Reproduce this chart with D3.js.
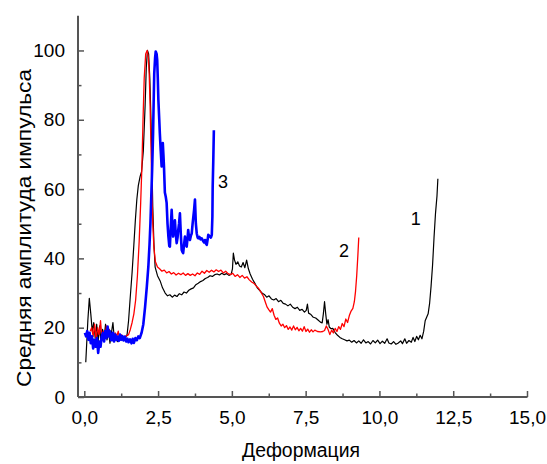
<!DOCTYPE html>
<html>
<head>
<meta charset="utf-8">
<script src="https://cdn.jsdelivr.net/npm/d3@7"></script>
<style>
html,body{margin:0;padding:0;background:#fff;}
svg{display:block;font-family:"Liberation Sans",Arial,sans-serif;}
</style>
</head>
<body>
<svg id="chart" width="547" height="464"></svg>
<script>
// Curve 1 (black): [deformation, mean pulse amplitude]
const curve1 = [
[0.05,10],[0.12,22],[0.17,28.5],[0.22,24],[0.27,19],[0.32,21.5],[0.37,17],[0.42,21],[0.47,16],[0.52,20.5],[0.57,15.5],[0.62,19.5],[0.67,17],[0.72,21],[0.77,16.5],[0.82,19],[0.87,15.5],[0.92,18.5],[0.97,21.5],[1.02,16.5],[1.07,18],[1.12,16],[1.17,17.5],[1.22,16.5],[1.27,17.5],[1.32,16.5],[1.38,17],[1.45,18],[1.5,22],[1.55,28],[1.62,36],[1.68,44],[1.73,51],[1.78,57],[1.83,61],[1.89,63.6],[1.94,65],[2.0,71],[2.06,84],[2.1,95],[2.14,100],[2.18,99],[2.22,92],[2.26,80],[2.29,68],[2.32,55],[2.36,44],[2.4,37.5],[2.48,35],[2.57,33.5],[2.65,31.5],[2.74,30],[2.82,29.2],[2.9,29.5],[2.98,28.8],[3.06,29.4],[3.14,29],[3.22,29.8],[3.3,29.5],[3.38,30.3],[3.46,30],[3.54,30.8],[3.62,31.2],[3.7,31.5],[3.78,32.4],[3.86,32.8],[3.94,33.3],[4.02,33.6],[4.1,34.2],[4.18,34.5],[4.26,35],[4.34,34.8],[4.42,35.3],[4.5,35.5],[4.58,35.2],[4.66,35.7],[4.74,35.3],[4.82,35.6],[4.9,35.1],[4.98,35.5],[5.02,37],[5.05,41.5],[5.09,39.5],[5.14,38.3],[5.2,39],[5.26,37.8],[5.32,37.5],[5.38,38.8],[5.44,37.3],[5.5,39.5],[5.56,37],[5.62,35.5],[5.7,34],[5.78,32.8],[5.86,31.5],[5.94,30.8],[6.02,30],[6.1,29.6],[6.18,28.8],[6.26,29.2],[6.34,28.3],[6.42,28],[6.5,28.4],[6.58,27.5],[6.66,27.9],[6.74,27],[6.82,26.8],[6.9,26.3],[6.98,26.8],[7.06,25.9],[7.14,25.5],[7.22,25.9],[7.3,25],[7.38,25.3],[7.46,24.5],[7.52,25],[7.56,26.8],[7.6,24.2],[7.68,23.8],[7.76,23],[7.84,22.8],[7.92,22.2],[8.0,21.6],[8.06,21.4],[8.1,24],[8.14,27.5],[8.18,24],[8.22,21],[8.26,22.3],[8.3,20.2],[8.36,19.7],[8.42,19.8],[8.5,18.6],[8.58,17.8],[8.66,17.2],[8.74,16.8],[8.82,16.5],[8.9,16.2],[8.98,16.4],[9.06,15.8],[9.14,16.3],[9.22,15.6],[9.3,16.2],[9.38,15.5],[9.46,16.5],[9.54,15.6],[9.62,16],[9.7,15.3],[9.78,16.3],[9.86,15.6],[9.94,16.4],[10.02,15.4],[10.1,16.1],[10.18,15.5],[10.26,16.8],[10.32,15.6],[10.4,15.3],[10.48,16],[10.56,15.2],[10.64,15.6],[10.72,16.2],[10.78,15.4],[10.86,16.8],[10.92,15.5],[11.0,16.3],[11.08,15.8],[11.14,17.2],[11.2,16],[11.26,17.5],[11.32,16.5],[11.38,17.8],[11.44,16.8],[11.5,19],[11.55,22],[11.6,23],[11.65,24],[11.7,27],[11.75,32],[11.8,38],[11.85,46],[11.9,53],[11.95,58],[11.98,63]
];
// Curve 2 (red)
const curve2 = [
[0.2,19],[0.25,20],[0.3,17.5],[0.35,21],[0.4,16.5],[0.45,20],[0.5,18],[0.55,22],[0.6,16.5],[0.65,19],[0.7,17],[0.75,20.5],[0.8,17.5],[0.85,19.5],[0.9,16.5],[0.95,18.5],[1.0,16],[1.05,18.5],[1.1,17.5],[1.15,19],[1.2,16.5],[1.25,18],[1.3,16.5],[1.35,17.5],[1.4,17.5],[1.46,17.8],[1.5,18],[1.56,19.5],[1.62,21.5],[1.68,24],[1.74,28],[1.8,35],[1.86,45],[1.91,56],[1.95,66],[1.99,80],[2.03,92],[2.08,99],[2.13,100],[2.17,98],[2.2,93],[2.23,84],[2.26,72],[2.29,60],[2.32,50],[2.36,43],[2.41,39],[2.48,37.5],[2.55,37],[2.63,36.3],[2.71,36.6],[2.79,35.8],[2.87,36.2],[2.95,35.5],[3.03,35.9],[3.11,35.2],[3.19,35.7],[3.27,35.3],[3.35,35.8],[3.43,35.1],[3.51,35.6],[3.59,35.1],[3.67,35.5],[3.75,35],[3.83,35.8],[3.91,35.4],[3.99,36.3],[4.07,35.7],[4.15,36.5],[4.23,36],[4.31,36.6],[4.39,36.1],[4.47,36.7],[4.55,36.2],[4.63,36.6],[4.71,35.8],[4.79,36.3],[4.87,35.6],[4.95,35.3],[5.03,35.7],[5.11,34.8],[5.19,35.3],[5.27,34.5],[5.35,35.1],[5.43,34.3],[5.51,34.7],[5.59,33.8],[5.67,33.2],[5.75,32.8],[5.83,32],[5.91,31.3],[5.99,30.2],[6.07,29],[6.13,27.5],[6.19,26],[6.25,25.2],[6.31,24.5],[6.37,25.5],[6.43,23.6],[6.49,22.4],[6.55,22.8],[6.61,21.3],[6.67,20.5],[6.73,21],[6.79,20],[6.85,20.6],[6.91,19.5],[6.97,20.2],[7.03,19.3],[7.09,20.5],[7.15,19.4],[7.21,20.1],[7.27,19.1],[7.33,19.8],[7.39,19],[7.45,20.3],[7.51,18.9],[7.57,19.6],[7.63,18.7],[7.69,19.4],[7.75,18.8],[7.81,19.3],[7.9,18.9],[8.0,18.8],[8.08,18.9],[8.14,19.2],[8.2,20.5],[8.26,19.5],[8.32,18],[8.38,19.3],[8.44,18.5],[8.5,19.8],[8.56,18.9],[8.62,20.3],[8.68,19.5],[8.74,21.2],[8.8,20.3],[8.86,22.5],[8.92,21.5],[8.98,23.5],[9.04,24.8],[9.1,25.6],[9.15,27.5],[9.19,30.5],[9.23,35],[9.27,41],[9.3,46]
];
// Curve 3 (blue)
const curve3 = [
[0.02,18.5],[0.06,17.5],[0.1,19],[0.14,16.5],[0.18,18.5],[0.22,15.5],[0.26,17.5],[0.3,14],[0.34,16.5],[0.38,14.5],[0.43,17],[0.47,12.7],[0.51,16],[0.55,14.5],[0.59,17.5],[0.63,18.5],[0.67,16],[0.71,19],[0.75,17],[0.79,20.3],[0.83,17.5],[0.87,19],[0.9,16.5],[0.93,16.4],[0.97,18.5],[1.01,16],[1.05,18],[1.09,16.5],[1.13,17.4],[1.17,16.2],[1.21,18],[1.25,16.5],[1.29,17.6],[1.33,16.3],[1.38,17.4],[1.42,16],[1.46,16.8],[1.5,15.8],[1.55,16.6],[1.6,15.5],[1.64,16.8],[1.68,15.6],[1.73,17],[1.78,16.4],[1.83,17.5],[1.88,17],[1.94,18.5],[2.0,21],[2.06,26],[2.12,32],[2.17,37.6],[2.21,44],[2.24,50],[2.27,58],[2.3,66],[2.33,76],[2.35,85],[2.37,93.4],[2.4,98],[2.42,99.7],[2.45,99],[2.47,97.3],[2.49,92],[2.51,85.7],[2.54,80],[2.56,76],[2.59,71],[2.62,66.5],[2.64,70],[2.66,73.3],[2.68,70],[2.7,66.5],[2.73,59],[2.76,57.8],[2.79,56],[2.82,50],[2.85,46.3],[2.88,43.5],[2.9,43.4],[2.93,49],[2.96,54],[2.99,49],[3.01,46.3],[3.04,49],[3.07,51],[3.1,47],[3.13,44.4],[3.16,46],[3.18,48],[3.21,50],[3.24,53],[3.27,47],[3.3,42.4],[3.33,41.8],[3.35,41.5],[3.38,44],[3.41,46.3],[3.44,44],[3.47,43.4],[3.5,46],[3.52,48.2],[3.55,46],[3.58,45.3],[3.61,46.5],[3.64,47.2],[3.67,50],[3.69,51.6],[3.72,54],[3.75,57],[3.78,50],[3.81,47.2],[3.84,46],[3.86,45.8],[3.9,46.2],[3.94,45.5],[3.98,45.8],[4.02,45.1],[4.06,44.6],[4.09,45.3],[4.12,44.3],[4.15,43.9],[4.18,45.5],[4.2,46.8],[4.23,46.5],[4.26,46.3],[4.29,46],[4.32,46.8],[4.34,52],[4.35,60.7],[4.37,68],[4.39,77]
];
const xTicks = [0, 2.5, 5, 7.5, 10, 12.5, 15];
const xTickLabels = ["0,0", "2,5", "5,0", "7,5", "10,0", "12,5", "15,0"];
const yTicks = [0, 20, 40, 60, 80, 100];
const curveLabels = ["1", "2", "3"];
const labelPos = [[11.23, 49.5], [8.8, 40.4], [4.7, 60.2]];
const xTitle = "Деформация";
const yTitle = "Средняя амплитуда импульса";

const svg = d3.select("#chart");
const x = d3.scaleLinear().domain([-0.2134, 15]).range([78, 527]);
const y = d3.scaleLinear().domain([0, 110]).range([397, 15.8]);
const axisColor = "#555";

const line = d3.line().x(d => x(d[0])).y(d => y(d[1]));
const series = [
  {data: curve1, color: "#000", w: 1.2},
  {data: curve2, color: "#ff0000", w: 1.3},
  {data: curve3, color: "#0000ff", w: 2.6}
];
series.forEach(s => {
  svg.append("path").datum(s.data).attr("d", line)
    .attr("fill", "none").attr("stroke", s.color).attr("stroke-width", s.w)
    .attr("stroke-linejoin", "round");
});

// X axis
const xAxis = d3.axisBottom(x).tickValues(xTicks).tickSizeInner(-6).tickSizeOuter(0)
  .tickFormat((d, i) => xTickLabels[i]).tickPadding(14);
const gx = svg.append("g").attr("transform", "translate(0,397)").call(xAxis);
gx.select(".domain").remove();
gx.selectAll("line").attr("stroke", axisColor).attr("stroke-width", 1.5);
gx.selectAll("text").attr("font-size", 19).attr("fill", "#000")
  .attr("font-family", "Liberation Sans, Arial, sans-serif");
const xMinor = d3.range(1.25, 15, 2.5);
const gxm = svg.append("g").attr("transform", "translate(0,397)").call(
  d3.axisBottom(x).tickValues(xMinor).tickSizeInner(-3.5).tickSizeOuter(0).tickFormat(""));
gxm.select(".domain").remove();
gxm.selectAll("line").attr("stroke", axisColor).attr("stroke-width", 1.5);

// Y axis
const yAxis = d3.axisLeft(y).tickValues(yTicks).tickSizeInner(-6).tickSizeOuter(0).tickPadding(13);
const gy = svg.append("g").attr("transform", "translate(78,0)").call(yAxis);
gy.select(".domain").remove();
gy.selectAll("line").attr("stroke", axisColor).attr("stroke-width", 1.5);
gy.selectAll("text").attr("font-size", 19).attr("fill", "#000")
  .attr("font-family", "Liberation Sans, Arial, sans-serif");
const yMinor = d3.range(10, 110, 20);
const gym = svg.append("g").attr("transform", "translate(78,0)").call(
  d3.axisLeft(y).tickValues(yMinor).tickSizeInner(-3.5).tickSizeOuter(0).tickFormat(""));
gym.select(".domain").remove();
gym.selectAll("line").attr("stroke", axisColor).attr("stroke-width", 1.5);

// Axis lines
svg.append("line").attr("x1", 78).attr("x2", 78).attr("y1", y(110)).attr("y2", y(0))
  .attr("stroke", axisColor).attr("stroke-width", 2);
svg.append("line").attr("x1", 78).attr("x2", x(15) + 0.5).attr("y1", y(0)).attr("y2", y(0))
  .attr("stroke", axisColor).attr("stroke-width", 2);

// Titles
svg.append("text").attr("x", 301).attr("y", 457).attr("text-anchor", "middle")
  .attr("font-size", 20).attr("textLength", 118).attr("lengthAdjust", "spacingAndGlyphs")
  .text(xTitle);
svg.append("text").attr("transform", "translate(31,228) rotate(-90)").attr("text-anchor", "middle")
  .attr("font-size", 20).attr("textLength", 318).attr("lengthAdjust", "spacingAndGlyphs")
  .text(yTitle);

// Curve labels
svg.selectAll(".clabel").data(curveLabels).enter().append("text")
  .attr("class", "clabel")
  .attr("x", (d, i) => x(labelPos[i][0]))
  .attr("y", (d, i) => y(labelPos[i][1]))
  .attr("text-anchor", "middle").attr("font-size", 18).text(d => d);
</script>
</body>
</html>
